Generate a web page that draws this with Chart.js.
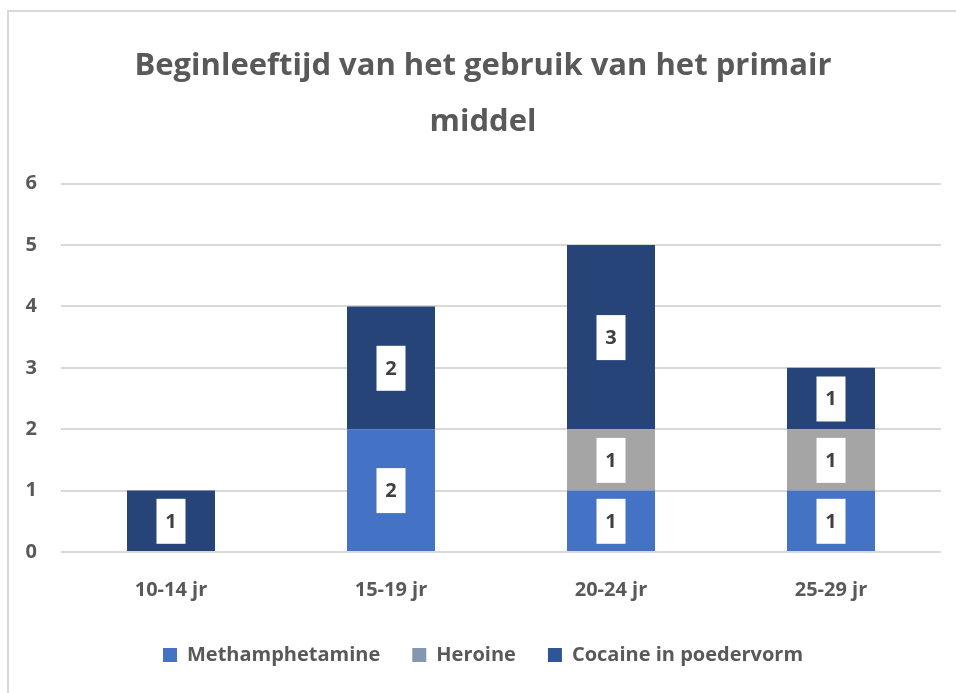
<!DOCTYPE html>
<html>
<head>
<meta charset="utf-8">
<script src="https://cdn.jsdelivr.net/npm/chart.js@4"></script>
<style>
  html, body { margin: 0; padding: 0; background: #fff; overflow: hidden; }
  #frame { position: absolute; left: 7px; top: 10px; width: 960px; height: 700px;
           border-top: 2px solid #D9D9D9; border-left: 2px solid #D9D9D9; }
  #wrap { position: absolute; left: 10px; top: 12px; width: 946px; height: 693px; }
</style>
</head>
<body>
<div id="frame"></div>
<div id="wrap"><canvas id="chart"></canvas></div>
<script>
// age groups and counts per primary substance
const categories = ['10-14 jr', '15-19 jr', '20-24 jr', '25-29 jr'];
const methamphetamine = [0, 2, 1, 1];
const heroine = [0, 0, 1, 1];
const cocaine = [1, 2, 3, 1];
const yTicks = [0, 1, 2, 3, 4, 5, 6];

const FONT = '"Open Sans", Lato, sans-serif';
const TEXT = '#595959';

// legend swatches in the picture are a bit different from the bar fills
const swatches = ['#4472C4', '#8497B0', '#2F5597'];

// white value boxes in the middle of each segment
const valueBoxes = {
  id: 'valueBoxes',
  afterDatasetsDraw(chart) {
    const ctx = chart.ctx;
    ctx.save();
    chart.data.datasets.forEach((ds, i) => {
      const meta = chart.getDatasetMeta(i);
      meta.data.forEach((bar, j) => {
        const v = ds.data[j];
        if (!v) return;
        const cy = (bar.y + bar.base) / 2;
        ctx.fillStyle = '#fff';
        ctx.fillRect(bar.x - 14.5, cy - 22, 29, 45);
        ctx.fillStyle = '#404040';
        ctx.font = 'bold 20px ' + FONT;
        ctx.textAlign = 'center';
        ctx.textBaseline = 'middle';
        ctx.fillText(String(v), bar.x, cy + 1);
      });
    });
    ctx.restore();
  }
};

new Chart(document.getElementById('chart'), {
  type: 'bar',
  data: {
    labels: categories,
    datasets: [
      { label: 'Methamphetamine', data: methamphetamine, backgroundColor: '#4472C4' },
      { label: 'Heroine', data: heroine, backgroundColor: '#A5A5A5' },
      { label: 'Cocaine in poedervorm', data: cocaine, backgroundColor: '#264478' }
    ]
  },
  options: {
    responsive: true,
    maintainAspectRatio: false,
    animation: false,
    layout: { padding: { left: 15, right: 15, top: 5, bottom: 30 } },
    datasets: { bar: { categoryPercentage: 1, barPercentage: 0.4 } },
    plugins: {
      title: {
        display: true,
        text: ['Beginleeftijd van het gebruik van het primair', 'middel'],
        color: TEXT,
        font: { family: FONT, size: 31, weight: 'bold', lineHeight: 1.8 },
        padding: { top: 21, bottom: 34 }
      },
      legend: {
        position: 'bottom',
        labels: {
          color: TEXT,
          font: { family: FONT, size: 20, weight: 'bold' },
          boxWidth: 14,
          boxHeight: 14,
          padding: 32,
          generateLabels(chart) {
            const items = Chart.defaults.plugins.legend.labels.generateLabels(chart);
            items.forEach((it, i) => { it.fillStyle = swatches[i]; it.strokeStyle = swatches[i]; it.lineWidth = 0; });
            return items;
          }
        }
      },
      tooltip: { enabled: false }
    },
    scales: {
      x: {
        stacked: true,
        afterFit(scale) { scale.height = 61; },
        grid: { display: false, drawTicks: false },
        border: { display: false },
        ticks: { color: TEXT, font: { family: FONT, size: 20, weight: 'bold' }, padding: 26 }
      },
      y: {
        stacked: true,
        min: 0,
        max: 6,
        afterBuildTicks(scale) { scale.ticks = yTicks.map(v => ({ value: v })); },
        afterFit(scale) { scale.width = 36; },
        grid: { color: '#D9D9D9', lineWidth: 2, drawTicks: false },
        border: { display: false },
        ticks: { color: TEXT, font: { family: FONT, size: 20, weight: 'bold' }, padding: 24 }
      }
    }
  },
  plugins: [valueBoxes]
});
</script>
</body>
</html>
